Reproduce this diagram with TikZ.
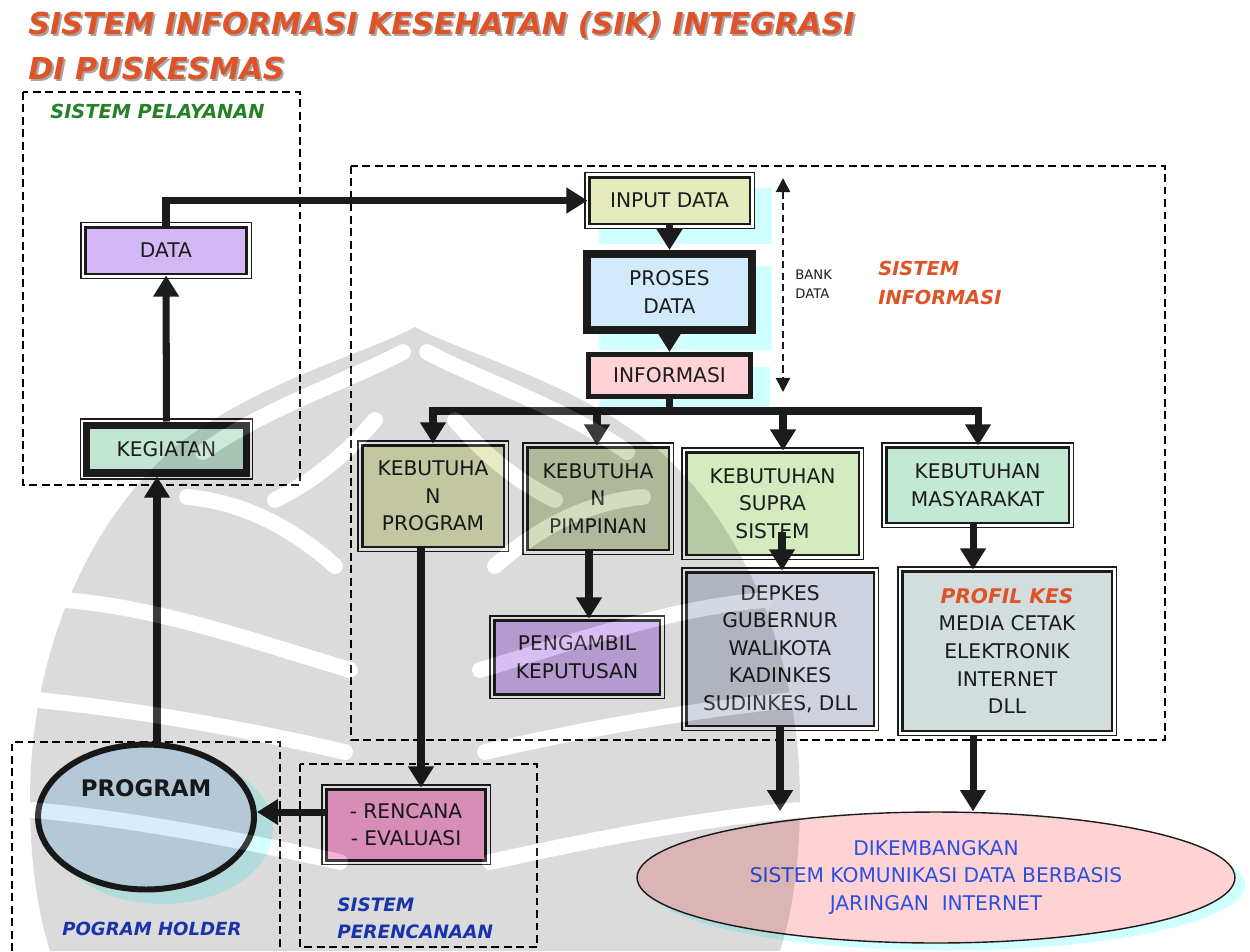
\documentclass[tikz,border=0pt]{standalone}
\usepackage{fontspec}
\setmainfont{DejaVu Sans}
\usetikzlibrary{arrows.meta,shapes.geometric}

\definecolor{ink}{RGB}{28,28,28}
\definecolor{titleor}{RGB}{222,84,40}
\definecolor{grn}{RGB}{38,128,40}
\definecolor{blu}{RGB}{30,60,200}
\definecolor{eltxt}{RGB}{45,80,225}
\definecolor{shcyan}{RGB}{208,255,255}
\definecolor{cData}{RGB}{212,184,245}
\definecolor{cKeg}{RGB}{195,230,210}
\definecolor{cInput}{RGB}{230,235,190}
\definecolor{cProses}{RGB}{210,235,252}
\definecolor{cInfo}{RGB}{255,210,215}
\definecolor{cKprog}{RGB}{228,232,188}
\definecolor{cKpimp}{RGB}{205,215,180}
\definecolor{cSupra}{RGB}{212,235,192}
\definecolor{cMasy}{RGB}{195,232,212}
\definecolor{cPeng}{RGB}{210,180,242}
\definecolor{cDepkes}{RGB}{205,210,222}
\definecolor{cProfil}{RGB}{210,222,222}
\definecolor{cRenc}{RGB}{252,165,212}
\definecolor{cEll}{RGB}{255,210,212}

\newcommand{\boxfont}{\fontsize{11.5}{15.7}\selectfont}

\begin{document}
\begin{tikzpicture}[x=0.02cm,y=-0.02cm,
  every node/.style={inner sep=0pt},
  frame/.style={draw=black, line width=0.7pt, dash pattern=on 4.5pt off 2.6pt},
  box/.style={rectangle, draw=ink, line width=1.7pt,
    preaction={draw=ink, line width=5.4pt},
    preaction={draw=white, line width=4.0pt},
    align=center, font=\boxfont, text=ink},
  heavybox/.style={box, line width=4pt,
    preaction={draw=ink, line width=7.6pt},
    preaction={draw=white, line width=6.2pt}},
  plainbox/.style={rectangle, draw=ink, align=center, font=\boxfont, text=ink},
  arr/.style={draw=ink, line width=4pt, -{Triangle[length=12pt,width=14pt]}},
  bus/.style={draw=ink, line width=4.3pt},
  bank/.style={draw=ink, line width=1.2pt, dash pattern=on 4pt off 2.6pt,
    {Triangle[length=8pt,width=8pt]}-{Triangle[length=8pt,width=8pt]}},
  headline/.style={anchor=west, font=\fontsize{17.2}{20}\bfseries\itshape\selectfont},
  tag/.style={anchor=west, font=\fontsize{11}{16}\bfseries\itshape\selectfont, align=left},
  rib/.style={draw=white, line width=9pt, line cap=round},
]
\useasboundingbox (0,0) rectangle (1250,951);
\fill[white] (0,0) rectangle (1250,951);

% heading with its soft drop shadow
\node[headline, text=black!35] at (30,27) {SISTEM INFORMASI KESEHATAN (SIK) INTEGRASI};
\node[headline, text=titleor] (title1) at (28,25) {SISTEM INFORMASI KESEHATAN (SIK) INTEGRASI};
\node[headline, text=black!35] at (30,70) {DI PUSKESMAS};
\node[headline, text=titleor] (title2) at (28,68) {DI PUSKESMAS};

% dashed subsystem frames
\draw[frame] (23,92) rectangle (300,485);
\draw[frame] (351,166) rectangle (1165,740);
\draw[frame] (12,951) -- (12,742) -- (280,742) -- (280,951);
\draw[frame] (300,764) rectangle (537,947);

\node[tag, text=grn] (tPel) at (50,111) {SISTEM PELAYANAN};
\node[tag, text=titleor] (tInf) at (878,283) {SISTEM\\INFORMASI};
\node[tag, text=blu, font=\fontsize{10.3}{16}\bfseries\itshape\selectfont] (tHold) at (62,929) {POGRAM HOLDER};
\node[tag, text=blu, font=\fontsize{10.5}{15.5}\bfseries\itshape\selectfont] (tRen) at (337,918) {SISTEM\\PERENCANAAN};

% pale cyan shadows behind the data chain and the ellipses
\fill[shcyan] (599,188) rectangle (772,244);
\fill[shcyan] (599,266) rectangle (772,350);
\fill[shcyan] (599,367) rectangle (770,407);
\fill[shcyan] (162,829) ellipse [x radius=111, y radius=75];
\fill[shcyan] (946,885) ellipse [x radius=299, y radius=65.5];

% service side
\node[box, fill=cData, minimum width=3.24cm, minimum height=0.94cm] (data) at (166,250.5) {DATA};
\node[heavybox, fill=cKeg, minimum width=3.2cm, minimum height=0.96cm] (keg) at (166.5,449) {KEGIATAN};

% information chain
\node[box, fill=cInput, minimum width=3.22cm, minimum height=0.94cm] (input) at (669.5,200.5) {INPUT DATA};
\node[plainbox, fill=cProses, line width=4.5pt, minimum width=3.3cm, minimum height=1.52cm] (proses) at (669.5,292) {PROSES\\DATA};
\node[plainbox, fill=cInfo, line width=2.8pt, minimum width=3.24cm, minimum height=0.84cm] (info) at (669.5,375.5) {INFORMASI};

\node[font=\fontsize{7.5}{10.5}\selectfont, align=left, anchor=west, text=ink] (bank) at (795,284) {BANK\\DATA};
\coordinate (bankT) at (783,178);
\coordinate (bankB) at (783,392);
\draw[bank] (bankT) -- (bankB);

% needs
\node[box, fill=cKprog, minimum width=2.84cm, minimum height=2.04cm] (kprog) at (433,496) {KEBUTUHA\\N\\PROGRAM};
\node[box, fill=cKpimp, minimum width=2.84cm, minimum height=2.06cm] (kpimp) at (598,498.5) {KEBUTUHA\\N\\PIMPINAN};
\node[box, fill=cSupra, minimum width=3.46cm, minimum height=2.06cm] (supra) at (772.5,503.5) {KEBUTUHAN\\SUPRA\\SISTEM};
\node[box, fill=cMasy, minimum width=3.66cm, minimum height=1.52cm] (masy) at (977.5,485) {KEBUTUHAN\\MASYARAKAT};

\node[box, fill=cPeng, minimum width=3.32cm, minimum height=1.48cm] (peng) at (577,657) {PENGAMBIL\\KEPUTUSAN};
\node[box, fill=cDepkes, minimum width=3.76cm, minimum height=3.08cm] (depkes) at (780,649) {DEPKES\\GUBERNUR\\WALIKOTA\\KADINKES\\SUDINKES, DLL};
\node[box, fill=cProfil, minimum width=4.2cm, minimum height=3.2cm] (profil) at (1007,651)
  {{\color{titleor}\bfseries\itshape PROFIL KES}\\MEDIA CETAK\\ELEKTRONIK\\INTERNET\\DLL};

% planning and program holder
\node[box, fill=cRenc, minimum width=3.2cm, minimum height=1.42cm] (renc) at (406,824.5) {- RENCANA\\- EVALUASI};
\node[ellipse, draw=ink, line width=3.4pt, fill=cProses, minimum width=4.32cm, minimum height=2.9cm] (prog) at (146,817) {};
\node[font=\fontsize{13}{15}\bfseries\selectfont, text=ink] (progtxt) at (146,788) {PROGRAM};

\node[ellipse, draw=ink, line width=0.8pt, fill=cEll, minimum width=11.96cm, minimum height=2.62cm,
  align=center, font=\boxfont, text=eltxt] (net) at (936,877.5)
  {DIKEMBANGKAN\\SISTEM KOMUNIKASI DATA BERBASIS\\JARINGAN\ \ INTERNET};

% connectors
\draw[arr] (keg) -- (data);
\draw[arr] (data.north) |- (input.west);
\draw[arr] (input) -- (proses);
\draw[arr] (proses) -- (info);

\coordinate (busL) at (433,411);
\coordinate (busR) at (978,411);
\coordinate (bus2) at (597,411);
\coordinate (bus3) at (783,411);
\draw[bus] (info.south) -- (info.south |- busL);
\draw[bus, line cap=rect] (busL) -- (busR);
\draw[arr] (busL) -- (kprog.north);
\draw[arr] (bus2) -- (bus2 |- kpimp.north);
\draw[arr] (bus3) -- (bus3 |- supra.north);
\draw[arr] (busR) -- (busR |- masy.north);

\draw[arr] ([xshift=-0.18cm]kpimp.south) -- ([xshift=-0.18cm]kpimp.south |- peng.north);
\coordinate (sup2) at (782,532);
\draw[arr] (sup2) -- (sup2 |- depkes.north);
\draw[arr] ([xshift=-0.09cm]masy.south) -- ([xshift=-0.09cm]masy.south |- profil.north);

\draw[arr] (depkes.south) -- (depkes.south |- net.north);
\coordinate (pf) at (973,735);
\draw[arr] (pf) -- (pf |- net.north);

\draw[arr] ([xshift=-0.24cm]kprog.south) -- ([xshift=-0.24cm]kprog.south |- renc.north);
\draw[arr] ([yshift=0.25cm]renc.west) -- ([yshift=0.25cm]renc.west -| prog.east);
\draw[arr] ([xshift=0.22cm]prog.north) -- ([xshift=0.22cm]prog.north |- keg.south);

% faint emblem watermark laid over the whole chart
\begin{scope}[transparency group, opacity=0.14]
  \fill[black] (415,327) .. controls (370,352) and (255,382) .. (175,447)
    .. controls (90,520) and (30,650) .. (30,800)
    .. controls (30,870) and (40,920) .. (50,951) -- (780,951)
    .. controls (790,920) and (800,870) .. (800,800)
    .. controls (800,650) and (740,520) .. (655,447)
    .. controls (575,382) and (460,352) .. (415,327) -- cycle;
  % leaf ribs, mirrored about the central stem
  \foreach \s in {1,-1} {
    \begin{scope}[xshift=415*0.02cm, xscale=\s]
      \draw[rib] (-12,352) .. controls (-60,378) and (-150,408) .. (-212,452);
      \draw[rib] (-228,497) .. controls (-170,502) and (-120,530) .. (-80,566);
      \draw[rib] (-350,600) .. controls (-255,608) and (-165,640) .. (-65,670);
      \draw[rib] (-378,700) .. controls (-275,710) and (-165,730) .. (-70,752);
      \draw[rib] (-382,810) .. controls (-275,820) and (-165,842) .. (-75,862);
      \draw[rib] (-40,420) .. controls (-70,455) and (-100,480) .. (-140,500);
    \end{scope}
  }
\end{scope}
\end{tikzpicture}
\end{document}
